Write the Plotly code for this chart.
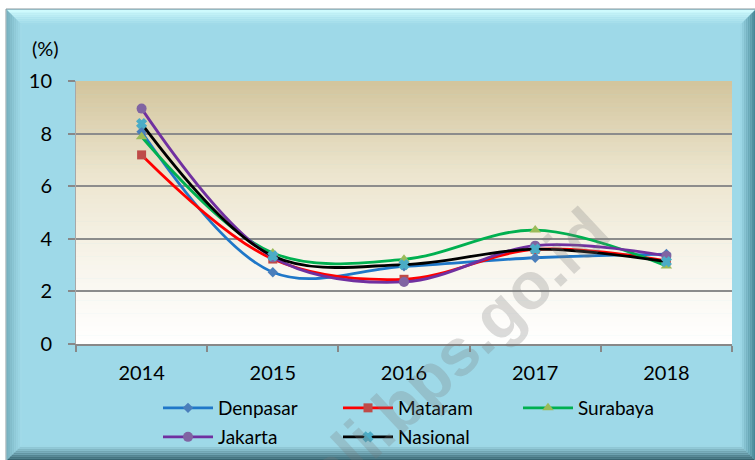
import plotly.graph_objects as go

# Data: annual figures (%) by city
years = ["2014", "2015", "2016", "2017", "2018"]
denpasar = [8.07, 2.73, 2.95, 3.28, 3.42]
mataram = [7.19, 3.23, 2.46, 3.60, 3.16]
surabaya = [7.88, 3.46, 3.22, 4.33, 2.97]
jakarta = [8.95, 3.30, 2.36, 3.74, 3.35]
nasional = [8.38, 3.35, 3.02, 3.61, 3.13]

series = [
    ("Denpasar", denpasar, "#1F77C8", "#4A7EBB", "diamond", 8, "legend"),
    ("Mataram", mataram, "#FF0000", "#BE4B48", "square", 9, "legend"),
    ("Surabaya", surabaya, "#00B050", "#9BBB59", "triangle-up", 10, "legend"),
    ("Jakarta", jakarta, "#7030A0", "#8064A2", "circle", 10, "legend2"),
    ("Nasional", nasional, "#000000", "#4BACC6", "x", 8, "legend2"),
]

W, H = 755, 460
L, R, T, B = 76, 23, 81, 116
PW, PH = W - L - R, H - T - B


def xp(px):
    return (px - L) / PW


def yp(py):
    return (H - B - py) / PH


def lerp(c1, c2, t):
    return "rgb({},{},{})".format(*[round(a + (b - a) * t) for a, b in zip(c1, c2)])


fig = go.Figure()
for name, vals, lc, mc, sym, ms, lg in series:
    fig.add_trace(go.Scatter(
        x=years, y=vals, name=name, mode="lines+markers",
        line=dict(color=lc, width=2.8, shape="spline", smoothing=1.0),
        marker=dict(symbol=sym, size=ms, color=mc,
                    line=dict(width=1.5 if sym == "x" else 0, color=mc)),
        legend=lg,
    ))

shapes = []

# outer panel with bevelled frame
shapes.append(dict(type="rect", xref="paper", yref="paper",
                   x0=xp(6), x1=xp(756), y0=yp(9), y1=yp(461),
                   fillcolor="#9ED9E8", line=dict(color="#8A9A9E", width=1), layer="below"))
bev = 15
n = 8
for i in range(n):
    a, b = i * bev / n, (i + 1) * bev / n
    # top highlight
    shapes.append(dict(type="path", xref="paper", yref="paper", layer="below",
                       path="M{},{} L{},{} L{},{} L{},{} Z".format(
                           xp(7 + a), yp(10 + a), xp(755 - a), yp(10 + a),
                           xp(755 - b), yp(10 + b), xp(7 + b), yp(10 + b)),
                       fillcolor=lerp((206, 250, 253), (160, 218, 232), i / (n - 1)),
                       line=dict(width=0)))
    # left edge
    shapes.append(dict(type="path", xref="paper", yref="paper", layer="below",
                       path="M{},{} L{},{} L{},{} L{},{} Z".format(
                           xp(7 + a), yp(10 + a), xp(7 + b), yp(10 + b),
                           xp(7 + b), yp(460 - b), xp(7 + a), yp(460 - a)),
                       fillcolor=lerp((120, 178, 192), (160, 218, 232), i / (n - 1)),
                       line=dict(width=0)))
    # right edge
    shapes.append(dict(type="path", xref="paper", yref="paper", layer="below",
                       path="M{},{} L{},{} L{},{} L{},{} Z".format(
                           xp(755 - a), yp(10 + a), xp(755 - b), yp(10 + b),
                           xp(755 - b), yp(460 - b), xp(755 - a), yp(460 - a)),
                       fillcolor=lerp((70, 135, 150), (155, 214, 229), i / (n - 1)),
                       line=dict(width=0)))
    # bottom edge
    shapes.append(dict(type="path", xref="paper", yref="paper", layer="below",
                       path="M{},{} L{},{} L{},{} L{},{} Z".format(
                           xp(7 + a), yp(460 - a), xp(755 - a), yp(460 - a),
                           xp(755 - b), yp(460 - b), xp(7 + b), yp(460 - b)),
                       fillcolor=lerp((55, 100, 112), (158, 216, 230), i / (n - 1)),
                       line=dict(width=0)))

# plot area vertical gradient (tan at top to white at bottom)
stops = [(0.0, (210, 196, 156)), (0.35, (236, 229, 206)), (0.7, (248, 245, 236)), (1.0, (255, 255, 255))]
nb = 60
for i in range(nb):
    t = (i + 0.5) / nb
    for k in range(len(stops) - 1):
        if stops[k][0] <= t <= stops[k + 1][0]:
            u = (t - stops[k][0]) / (stops[k + 1][0] - stops[k][0])
            col = lerp(stops[k][1], stops[k + 1][1], u)
            break
    shapes.append(dict(type="rect", xref="x domain", yref="y domain", layer="below",
                       x0=0, x1=1, y0=1 - (i + 1) / nb - 0.002, y1=1 - i / nb,
                       fillcolor=col, line=dict(width=0)))

font = "Lato, Carlito, 'Open Sans', sans-serif"
leg_common = dict(orientation="h", xanchor="left", yanchor="middle",
                  bgcolor="rgba(0,0,0,0)", entrywidth=115, entrywidthmode="pixels",
                  itemwidth=50, font=dict(family=font, size=19), traceorder="normal")

fig.update_layout(
    width=W, height=H,
    margin=dict(l=L, r=R, t=T, b=B, autoexpand=False),
    paper_bgcolor="white", plot_bgcolor="rgba(0,0,0,0)",
    shapes=shapes,
    font=dict(family=font, size=18, color="#000"),
    showlegend=True,
    legend=dict(x=xp(158), y=yp(408), **leg_common),
    legend2=dict(x=xp(158), y=yp(437), **leg_common),
    xaxis=dict(type="category", range=[-0.5, 4.5], tickson="boundaries", ticks="outside",
               ticklen=6, tickcolor="#888888", tickwidth=2, showline=True,
               linecolor="#888888", linewidth=2, showgrid=False, ticklabelstandoff=10,
               tickfont=dict(family=font, size=20)),
    yaxis=dict(range=[0, 10], dtick=2, ticks="outside", ticklen=7, tickcolor="#888888",
               tickwidth=2, showline=True, linecolor="#A8A8A8", linewidth=1,
               showgrid=True, gridcolor="#8C8C8C", gridwidth=2, zeroline=False,
               ticklabelstandoff=12, tickfont=dict(family=font, size=20)),
    annotations=[
        dict(text="(%)", xref="paper", yref="paper", x=xp(45), y=yp(48),
             xanchor="center", yanchor="middle", showarrow=False,
             font=dict(family=font, size=20)),
        dict(text="<b>bali.bps.go.id</b>", xref="paper", yref="paper",
             x=xp(442), y=yp(366), xanchor="center", yanchor="middle",
             textangle=-43, showarrow=False,
             font=dict(family="Liberation Sans, Arial, sans-serif", size=66,
                       color="rgba(120,120,120,0.26)")),
    ],
)

fig.write_html("out.html")
